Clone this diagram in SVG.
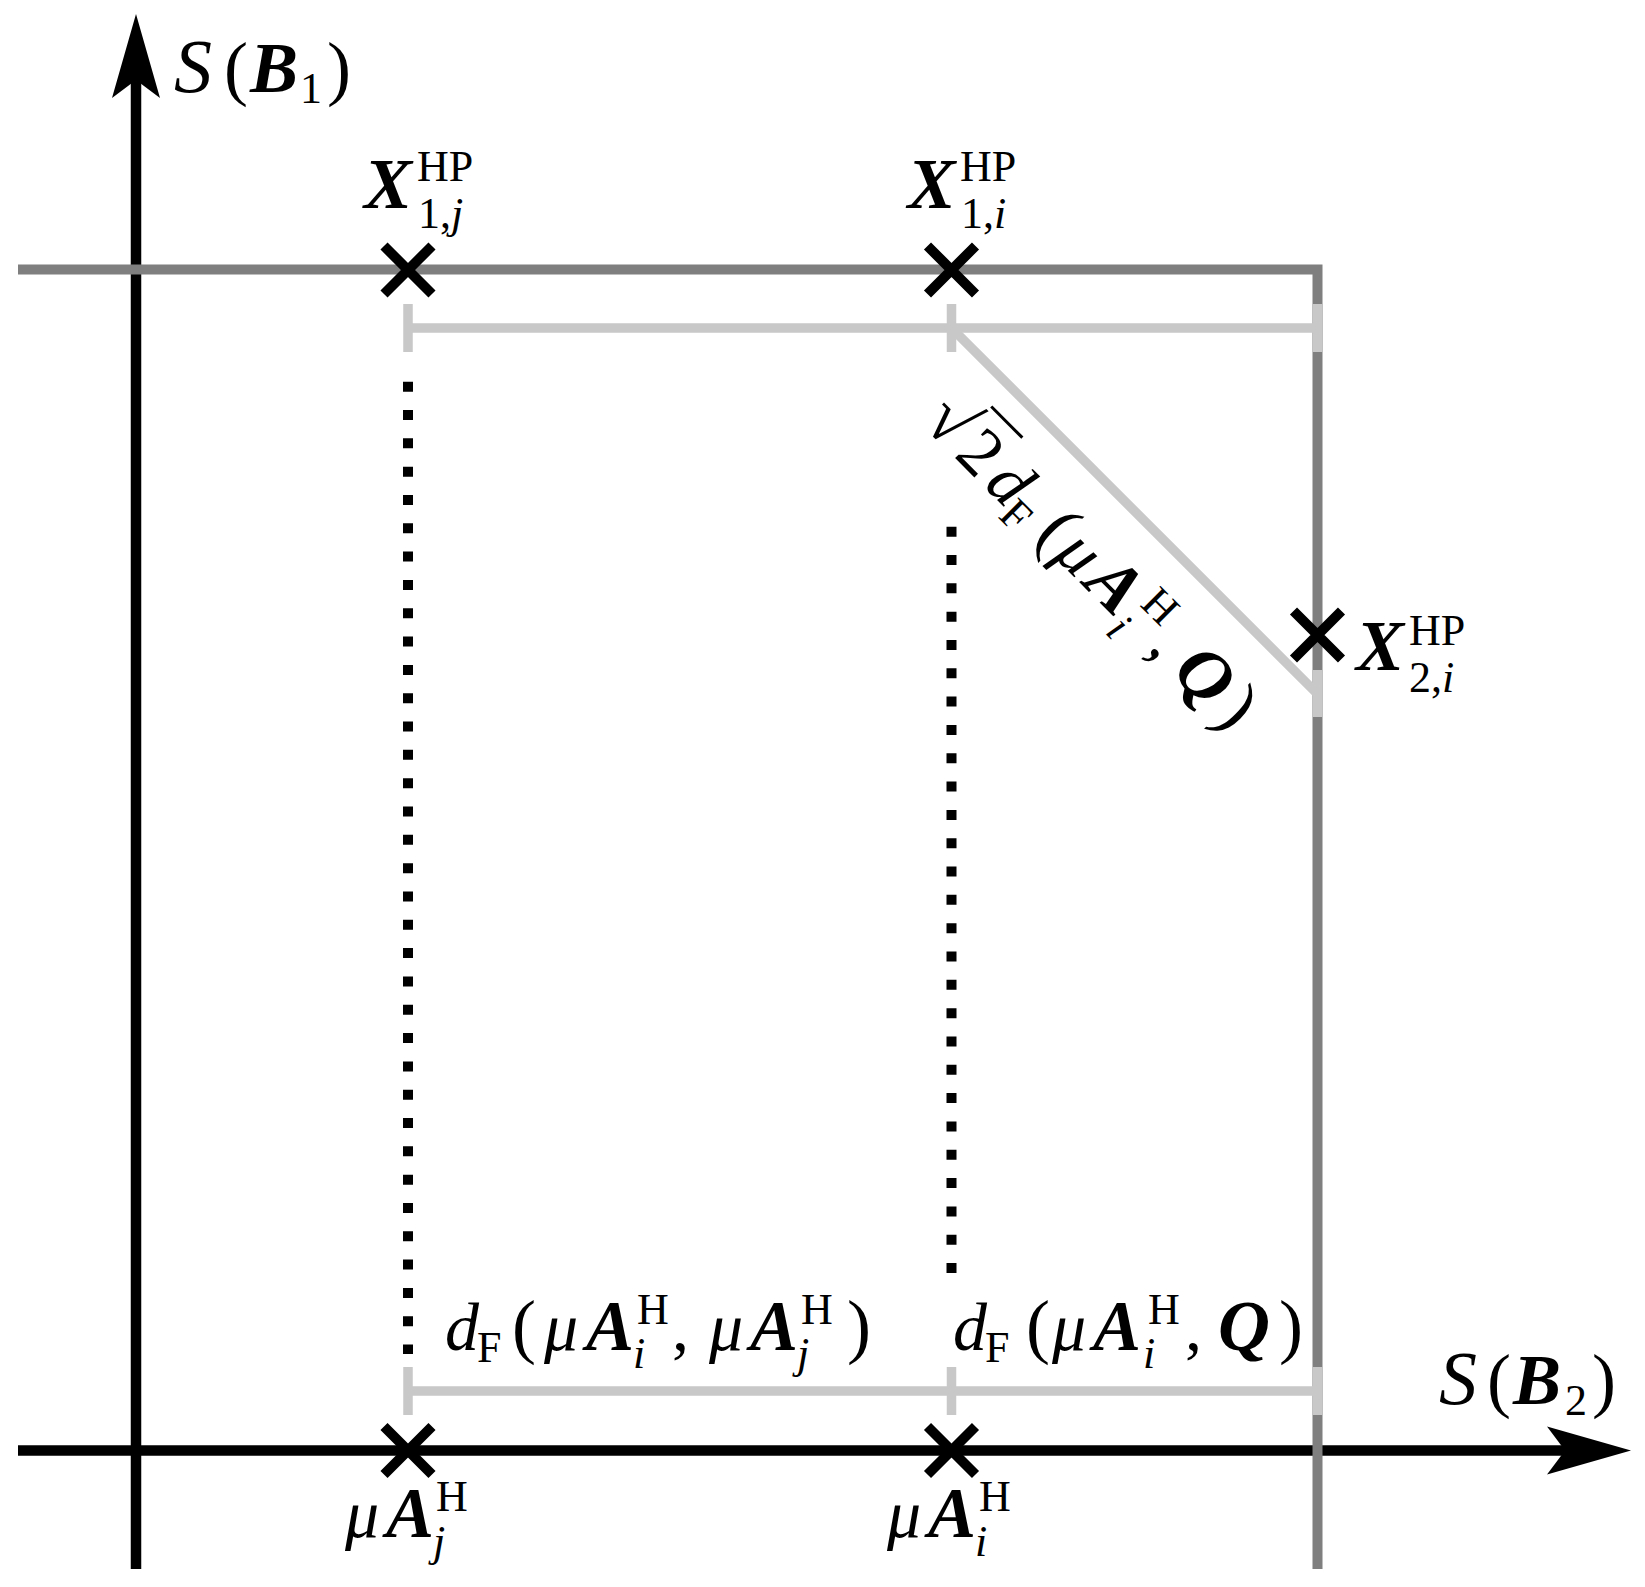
<svg xmlns="http://www.w3.org/2000/svg" width="1645" height="1587" viewBox="0 0 1645 1587">
<style>
.ax{stroke:#000;stroke-width:10.5;fill:none}
.dk{stroke:#7f7f7f;stroke-width:10;fill:none;stroke-linejoin:miter}
.lt{stroke:#c8c8c8;stroke-width:9.5;fill:none}
.dot{stroke:#000;stroke-width:10;stroke-dasharray:10 18.32;fill:none}
.cr{stroke:#000;stroke-width:10;fill:none}
text{font-family:"Liberation Serif","Times New Roman",serif;font-size:68px;fill:#000}
.it{font-style:italic}
.bi{font-style:italic;font-weight:bold;font-size:72px}
.s{font-size:44px}
.p{font-size:72px}
.cal{font-style:italic;font-size:76px}
</style>
<defs>
<marker id="arr" markerUnits="userSpaceOnUse" orient="auto" refX="0" refY="0" markerWidth="200" markerHeight="200" overflow="visible">
<path d="M66,0 L-18,-24 L0,0 L-18,24 Z" fill="#000"/>
</marker>
<path id="cross" d="M-24,-24 L24,24 M-24,24 L24,-24"/>
</defs>

<g id="axes">
<line class="ax" x1="136" y1="1569" x2="136" y2="80" marker-end="url(#arr)"/>
<line class="ax" x1="18" y1="1450.5" x2="1565" y2="1450.5" marker-end="url(#arr)"/>
</g>

<g id="connectors">
<polyline class="dk" points="18,269.5 1317.5,269.5 1317.5,1569"/>
<path class="lt" d="M408,328 H1317.5 M408,304 V352 M951.5,304 V352 M1317.5,304 V352"/>
<path class="lt" d="M951.5,328 L1317.5,694 M1317.5,670 V717"/>
<path class="lt" d="M408,1391 H1317.5 M408,1367 V1415 M951.5,1367 V1415 M1317.5,1367 V1415"/>
<line class="dot" x1="408" y1="381.7" x2="408" y2="1354"/>
<line class="dot" x1="951.5" y1="526.7" x2="951.5" y2="1273"/>
</g>

<g id="node-X1j">
<use href="#cross" class="cr" x="408" y="270"/>
<text><tspan class="bi" x="364" y="208">X</tspan><tspan class="s" x="417" y="181">HP</tspan><tspan class="s" x="418" y="228">1,</tspan><tspan class="s it">j</tspan></text>
</g>

<g id="node-X1i">
<use href="#cross" class="cr" x="951.5" y="270"/>
<text><tspan class="bi" x="907.5" y="208">X</tspan><tspan class="s" x="960" y="181">HP</tspan><tspan class="s" x="961" y="228">1,</tspan><tspan class="s it">i</tspan></text>
</g>

<g id="node-X2i">
<use href="#cross" class="cr" x="1317.5" y="635"/>
<text><tspan class="bi" x="1356" y="670">X</tspan><tspan class="s" x="1409" y="645">HP</tspan><tspan class="s" x="1409" y="692">2,</tspan><tspan class="s it">i</tspan></text>
</g>

<g id="node-Aj">
<use href="#cross" class="cr" x="408" y="1450.5"/>
<text><tspan class="it" x="345" y="1537">μ</tspan><tspan class="bi" x="386" y="1537">A</tspan><tspan class="s" x="436" y="1511">H</tspan><tspan class="s it" x="433" y="1556">j</tspan></text>
</g>

<g id="node-Ai">
<use href="#cross" class="cr" x="951.5" y="1450.5"/>
<text><tspan class="it" x="887" y="1537">μ</tspan><tspan class="bi" x="928" y="1537">A</tspan><tspan class="s" x="979" y="1511">H</tspan><tspan class="s it" x="975" y="1556">i</tspan></text>
</g>

<g id="label-SB1">
<text><tspan class="cal" x="174" y="92">S</tspan><tspan class="p" x="224" y="92">(</tspan><tspan class="bi" x="250" y="92">B</tspan><tspan class="s" x="300" y="103">1</tspan><tspan class="p" x="327" y="92">)</tspan></text>
</g>

<g id="label-SB2">
<text><tspan class="cal" x="1439" y="1404">S</tspan><tspan class="p" x="1487" y="1404">(</tspan><tspan class="bi" x="1513" y="1404">B</tspan><tspan class="s" x="1565" y="1415">2</tspan><tspan class="p" x="1592" y="1404">)</tspan></text>
</g>

<g id="label-dAiAj">
<text><tspan class="it" x="445" y="1350">d</tspan><tspan class="s" x="477" y="1362">F</tspan><tspan class="p" x="512" y="1350">(</tspan><tspan class="it" x="544" y="1350">μ</tspan><tspan class="bi" x="586" y="1350">A</tspan><tspan class="s" x="637" y="1324">H</tspan><tspan class="s it" x="633" y="1368">i</tspan><tspan x="672" y="1350">,</tspan><tspan class="it" x="709" y="1350">μ</tspan><tspan class="bi" x="750" y="1350">A</tspan><tspan class="s" x="801" y="1324">H</tspan><tspan class="s it" x="797" y="1368">j</tspan><tspan class="p" x="847" y="1350">)</tspan></text>
</g>

<g id="label-dAiQ">
<text><tspan class="it" x="953" y="1350">d</tspan><tspan class="s" x="985" y="1362">F</tspan><tspan class="p" x="1026" y="1350">(</tspan><tspan class="it" x="1052" y="1350">μ</tspan><tspan class="bi" x="1093" y="1350">A</tspan><tspan class="s" x="1148" y="1324">H</tspan><tspan class="s it" x="1143" y="1368">i</tspan><tspan x="1185" y="1350">,</tspan><tspan class="bi" x="1218" y="1350">Q</tspan><tspan class="p" x="1279" y="1350">)</tspan></text>
</g>

<g id="label-diag" transform="translate(888,391) rotate(45)">
<text><tspan x="46" y="0" style="font-size:72px">√</tspan><tspan x="92" y="0">2</tspan><tspan class="it" x="134" y="0">d</tspan><tspan class="s" x="166" y="12">F</tspan><tspan class="p" x="206" y="0">(</tspan><tspan class="it" x="233" y="0">μ</tspan><tspan class="bi" x="274" y="0">A</tspan><tspan class="s" x="329" y="-26">H</tspan><tspan class="s it" x="324" y="18">i</tspan><tspan x="366" y="0">,</tspan><tspan class="bi" x="399" y="0">Q</tspan><tspan class="p" x="460" y="0">)</tspan></text>
<line x1="84" y1="-62" x2="128" y2="-62" stroke="#000" stroke-width="3"/>
</g>
</svg>
